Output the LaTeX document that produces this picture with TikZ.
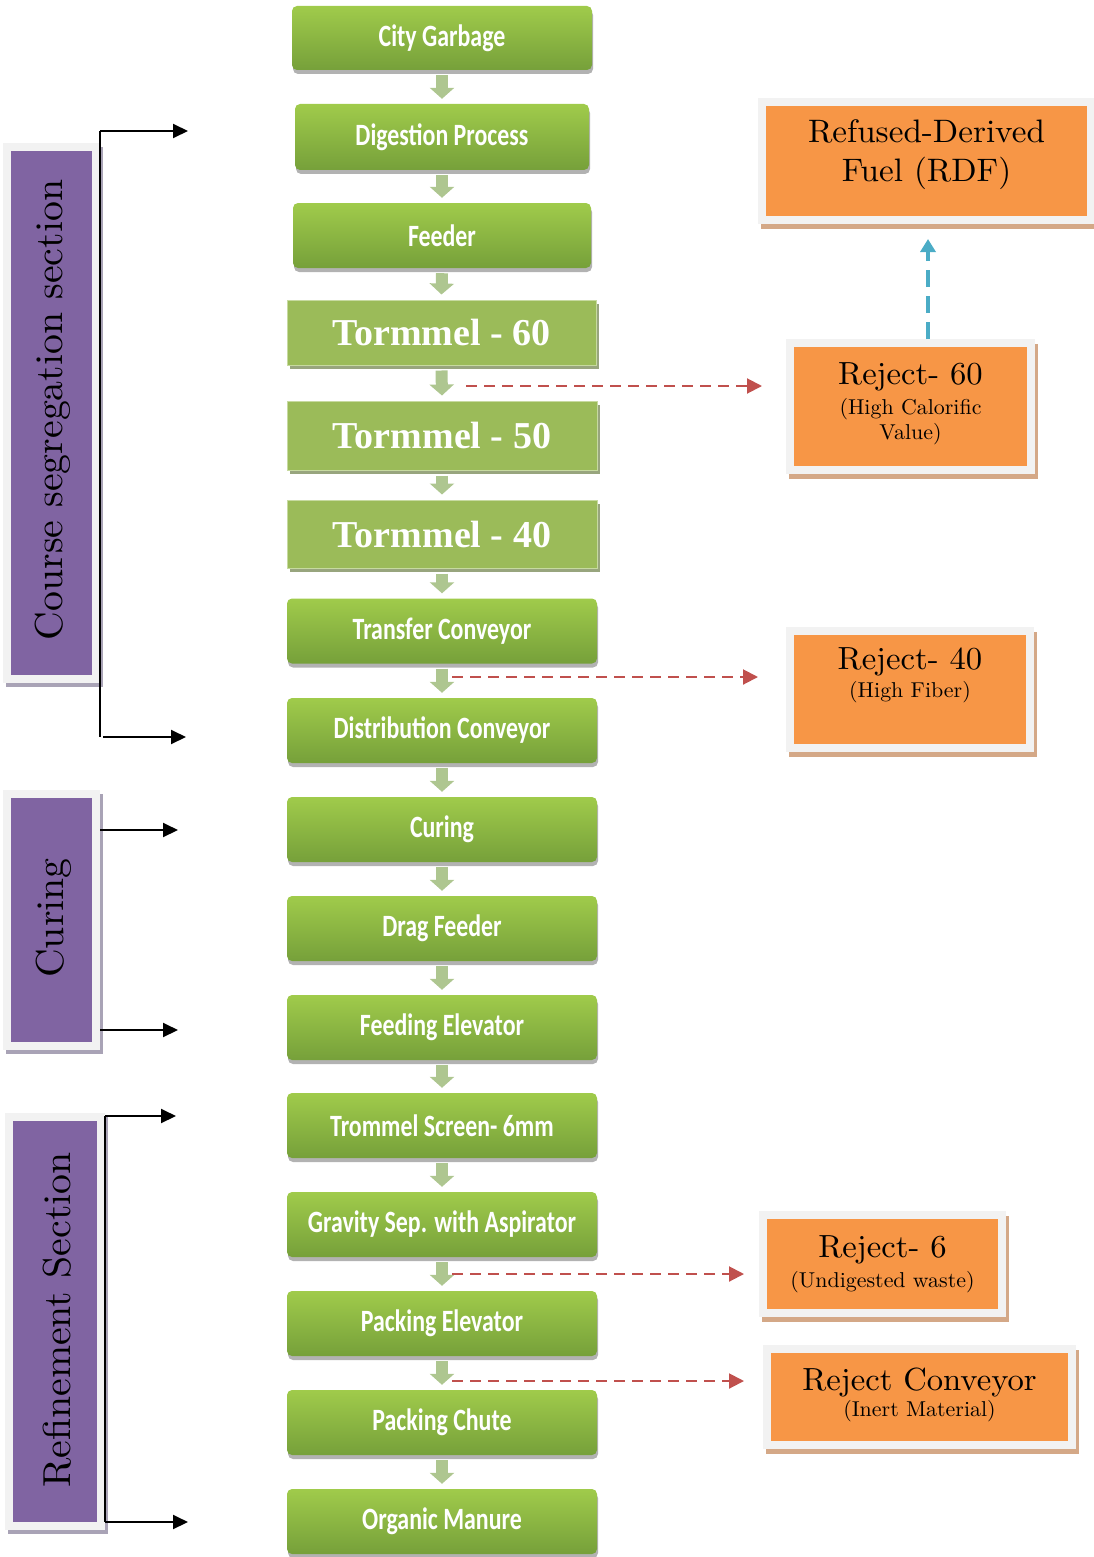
\documentclass[tikz,border=0pt]{standalone}
\usepackage{fontspec}
\newfontfamily\calfont{Carlito}
\newfontfamily\timesfont{Liberation Serif}
\newfontfamily\lmw{lmroman10-regular.otf}[FakeStretch=1.02]
\usetikzlibrary{shadows,arrows.meta}
\definecolor{gtop}{HTML}{A0CB4B}
\definecolor{gbot}{HTML}{76A03A}
\definecolor{tormc}{HTML}{9BBB59}
\definecolor{tormb}{HTML}{C7DAA0}
\definecolor{tormsh}{HTML}{98A57E}
\definecolor{orc}{HTML}{F79646}
\definecolor{orsh}{HTML}{D4A887}
\definecolor{frame}{HTML}{F2F2F2}
\definecolor{purp}{HTML}{8064A2}
\definecolor{psh}{HTML}{A9A3B6}
\definecolor{redc}{HTML}{C0504D}
\definecolor{bluec}{HTML}{4BACC6}
\definecolor{arrc}{HTML}{AEC690}
\newcommand\gtext[1]{\scalebox{0.77}[1]{#1}}
\tikzset{
  greenbox/.style={rounded corners=5pt, top color=gtop, bottom color=gbot, draw=none,
    minimum width=310pt, minimum height=65pt, inner sep=0pt,
    drop shadow={shadow xshift=1pt, shadow yshift=-4pt, opacity=0.3, fill=black},
    text=white, font=\calfont\bfseries\fontsize{31}{31}\selectfont},
  tormbox/.style={fill=tormc, draw=tormb, line width=1pt, minimum width=310pt,
    minimum height=66pt, inner sep=0pt,
    preaction={fill=tormsh, transform canvas={xshift=3pt,yshift=-4pt}},
    text=white, font=\timesfont\bfseries\fontsize{38}{38}\selectfont},
  secbox/.style={fill=purp, draw=frame, line width=8pt, inner sep=0pt,
    preaction={fill=psh, draw=psh, line width=8pt, transform canvas={xshift=3pt,yshift=-4pt}}},
  orbox/.style={fill=orc, draw=frame, line width=8pt, inner sep=0pt,
    preaction={fill=orsh, draw=orsh, line width=8pt, transform canvas={xshift=3pt,yshift=-5pt}}},
  sectext/.style={rotate=90, inner sep=0pt, font=\lmw\fontsize{39}{39}\selectfont},
  ormain/.style={inner sep=0pt, align=center, font=\lmw\fontsize{32}{39}\selectfont},
  orsub/.style={inner sep=0pt, align=center, font=\lmw\fontsize{21.5}{25}\selectfont},
  smallarr/.style={draw=arrc, line width=12pt, -{Triangle[width=24pt,length=11pt]}},
  reddash/.style={draw=redc, line width=2pt, dash pattern=on 11pt off 7pt,
    -{Triangle[width=15pt,length=15pt,fill=redc]}},
  bluedash/.style={draw=bluec, line width=3.5pt, dash pattern=on 17pt off 9pt,
    -{Triangle[width=15pt,length=13pt,fill=bluec]}},
  blk/.style={draw=black, line width=2pt, -{Triangle[width=14pt,length=15pt]}},
  blkline/.style={draw=black, line width=2pt}
}
\begin{document}
\begin{tikzpicture}[x=1pt,y=-1pt]
\useasboundingbox (0,0) rectangle (1094,1557);

% main column
\node[greenbox, minimum width=300pt, minimum height=64pt] (n1) at (442,38) {\gtext{City Garbage}};
\node[greenbox, minimum width=294pt, minimum height=66pt] (n2) at (442,137) {\gtext{Digestion Process}};
\node[greenbox, minimum width=298pt] (n3) at (442,235.5) {\gtext{Feeder}};
\node[tormbox, minimum width=309pt, minimum height=65pt] (n4) at (441.5,332.5) {Tormmel - 60};
\node[tormbox, minimum height=69pt] (n5) at (442,435.5) {Tormmel - 50};
\node[tormbox, minimum height=68pt] (n6) at (442,534) {Tormmel - 40};
\node[greenbox] (n7) at (442,631) {\gtext{Transfer Conveyor}};
\node[greenbox] (n8) at (442,730.5) {\gtext{Distribution Conveyor}};
\node[greenbox] (n9) at (442,829.5) {\gtext{Curing}};
\node[greenbox] (n10) at (442,928.5) {\gtext{Drag Feeder}};
\node[greenbox] (n11) at (442,1027.5) {\gtext{Feeding Elevator}};
\node[greenbox] (n12) at (442,1125.5) {\gtext{Trommel Screen- 6mm}};
\node[greenbox] (n13) at (442,1224.5) {\gtext{Gravity Sep. with Aspirator}};
\node[greenbox] (n14) at (442,1323.5) {\gtext{Packing Elevator}};
\node[greenbox] (n15) at (442,1422.5) {\gtext{Packing Chute}};
\node[greenbox] (n16) at (442,1521.5) {\gtext{Organic Manure}};

\foreach \a/\b in {n1/n2,n2/n3,n3/n4,n4/n5,n5/n6,n6/n7,n7/n8,n8/n9,n9/n10,n10/n11,n11/n12,n12/n13,n13/n14,n14/n15,n15/n16}
  \draw[smallarr] ([yshift=-5pt]\a.south) -- ([yshift=5pt]\b.north);

% section boxes
\node[secbox, minimum width=89pt, minimum height=532pt] (s1) at (51.5,413) {};
\node[sectext] (s1t) at (53,410) {Course segregation section};
\node[secbox, minimum width=89pt, minimum height=252pt] (s2) at (51.5,920) {};
\node[sectext] (s2t) at (54,918) {Curing};
\node[secbox, minimum width=92pt, minimum height=409pt] (s3) at (55,1321) {};
\node[sectext] (s3t) at (57,1320) {Refinement Section};

% brackets
\coordinate (b1t) at (100,131);
\coordinate (b1b) at (100,737);
\coordinate (b1te) at (188,131);
\coordinate (b1be) at (186,737);
\draw[blkline] (b1t) -- (b1b);
\draw[blk] (b1t) -- (b1te);
\draw[blk] ([xshift=3pt]b1b) -- (b1be);

\coordinate (b2t) at (100,830);
\coordinate (b2b) at (100,1030);
\coordinate (b2te) at (178,830);
\coordinate (b2be) at (178,1030);
\draw[blk] (b2t) -- (b2te);
\draw[blk] (b2b) -- (b2be);

\coordinate (b3t) at (105,1116);
\coordinate (b3b) at (105,1522);
\coordinate (b3te) at (176,1116);
\coordinate (b3be) at (188,1522);
\draw[blkline] (b3t) -- (b3b);
\draw[blk] (b3t) -- (b3te);
\draw[blk] (b3b) -- (b3be);

% orange boxes
\node[orbox, minimum width=329pt, minimum height=118pt] (rdf) at (926.5,161) {};
\node[ormain, font=\lmw\fontsize{32.5}{39}\selectfont] (rdft) at (926.5,155) {Refused-Derived\\Fuel (RDF)};

\node[orbox, minimum width=241pt, minimum height=127pt] (r60) at (910.5,406.5) {};
\node[ormain] (r60a) at (910.5,377) {Reject- 60};
\node[orsub] (r60b) at (910.5,421.5) {(High Calorific\\Value)};

\node[orbox, minimum width=240pt, minimum height=117pt] (r40) at (910,689.5) {};
\node[ormain] (r40a) at (910,662) {Reject- 40};
\node[orsub] (r40b) at (910,692) {(High Fiber)};

\node[orbox, minimum width=239pt, minimum height=98pt] (r6) at (882.5,1264) {};
\node[ormain] (r6a) at (882.5,1250) {Reject- 6};
\node[orsub] (r6b) at (882.5,1282) {(Undigested waste)};

\node[orbox, minimum width=305pt, minimum height=96pt] (rc) at (919.5,1397) {};
\node[ormain] (rca) at (919.5,1382) {Reject Conveyor};
\node[orsub] (rcb) at (919.5,1411) {(Inert Material)};

% dashed connectors
\coordinate (d1) at (466,386);
\coordinate (d2) at (452,677);
\coordinate (d3) at (452,1274);
\coordinate (d4) at (452,1381);
\draw[reddash, shorten >=24pt] (d1) -- (d1 -| r60.west);
\draw[reddash, shorten >=28pt] (d2) -- (d2 -| r40.west);
\draw[reddash, shorten >=15pt] (d3) -- (d3 -| r6.west);
\draw[reddash, shorten >=19pt] (d4) -- (d4 -| rc.west);
\draw[bluedash, shorten >=15pt] ([xshift=17.5pt]r60.north) -- ([xshift=17.5pt]r60.north |- rdf.south);
\end{tikzpicture}
\end{document}
